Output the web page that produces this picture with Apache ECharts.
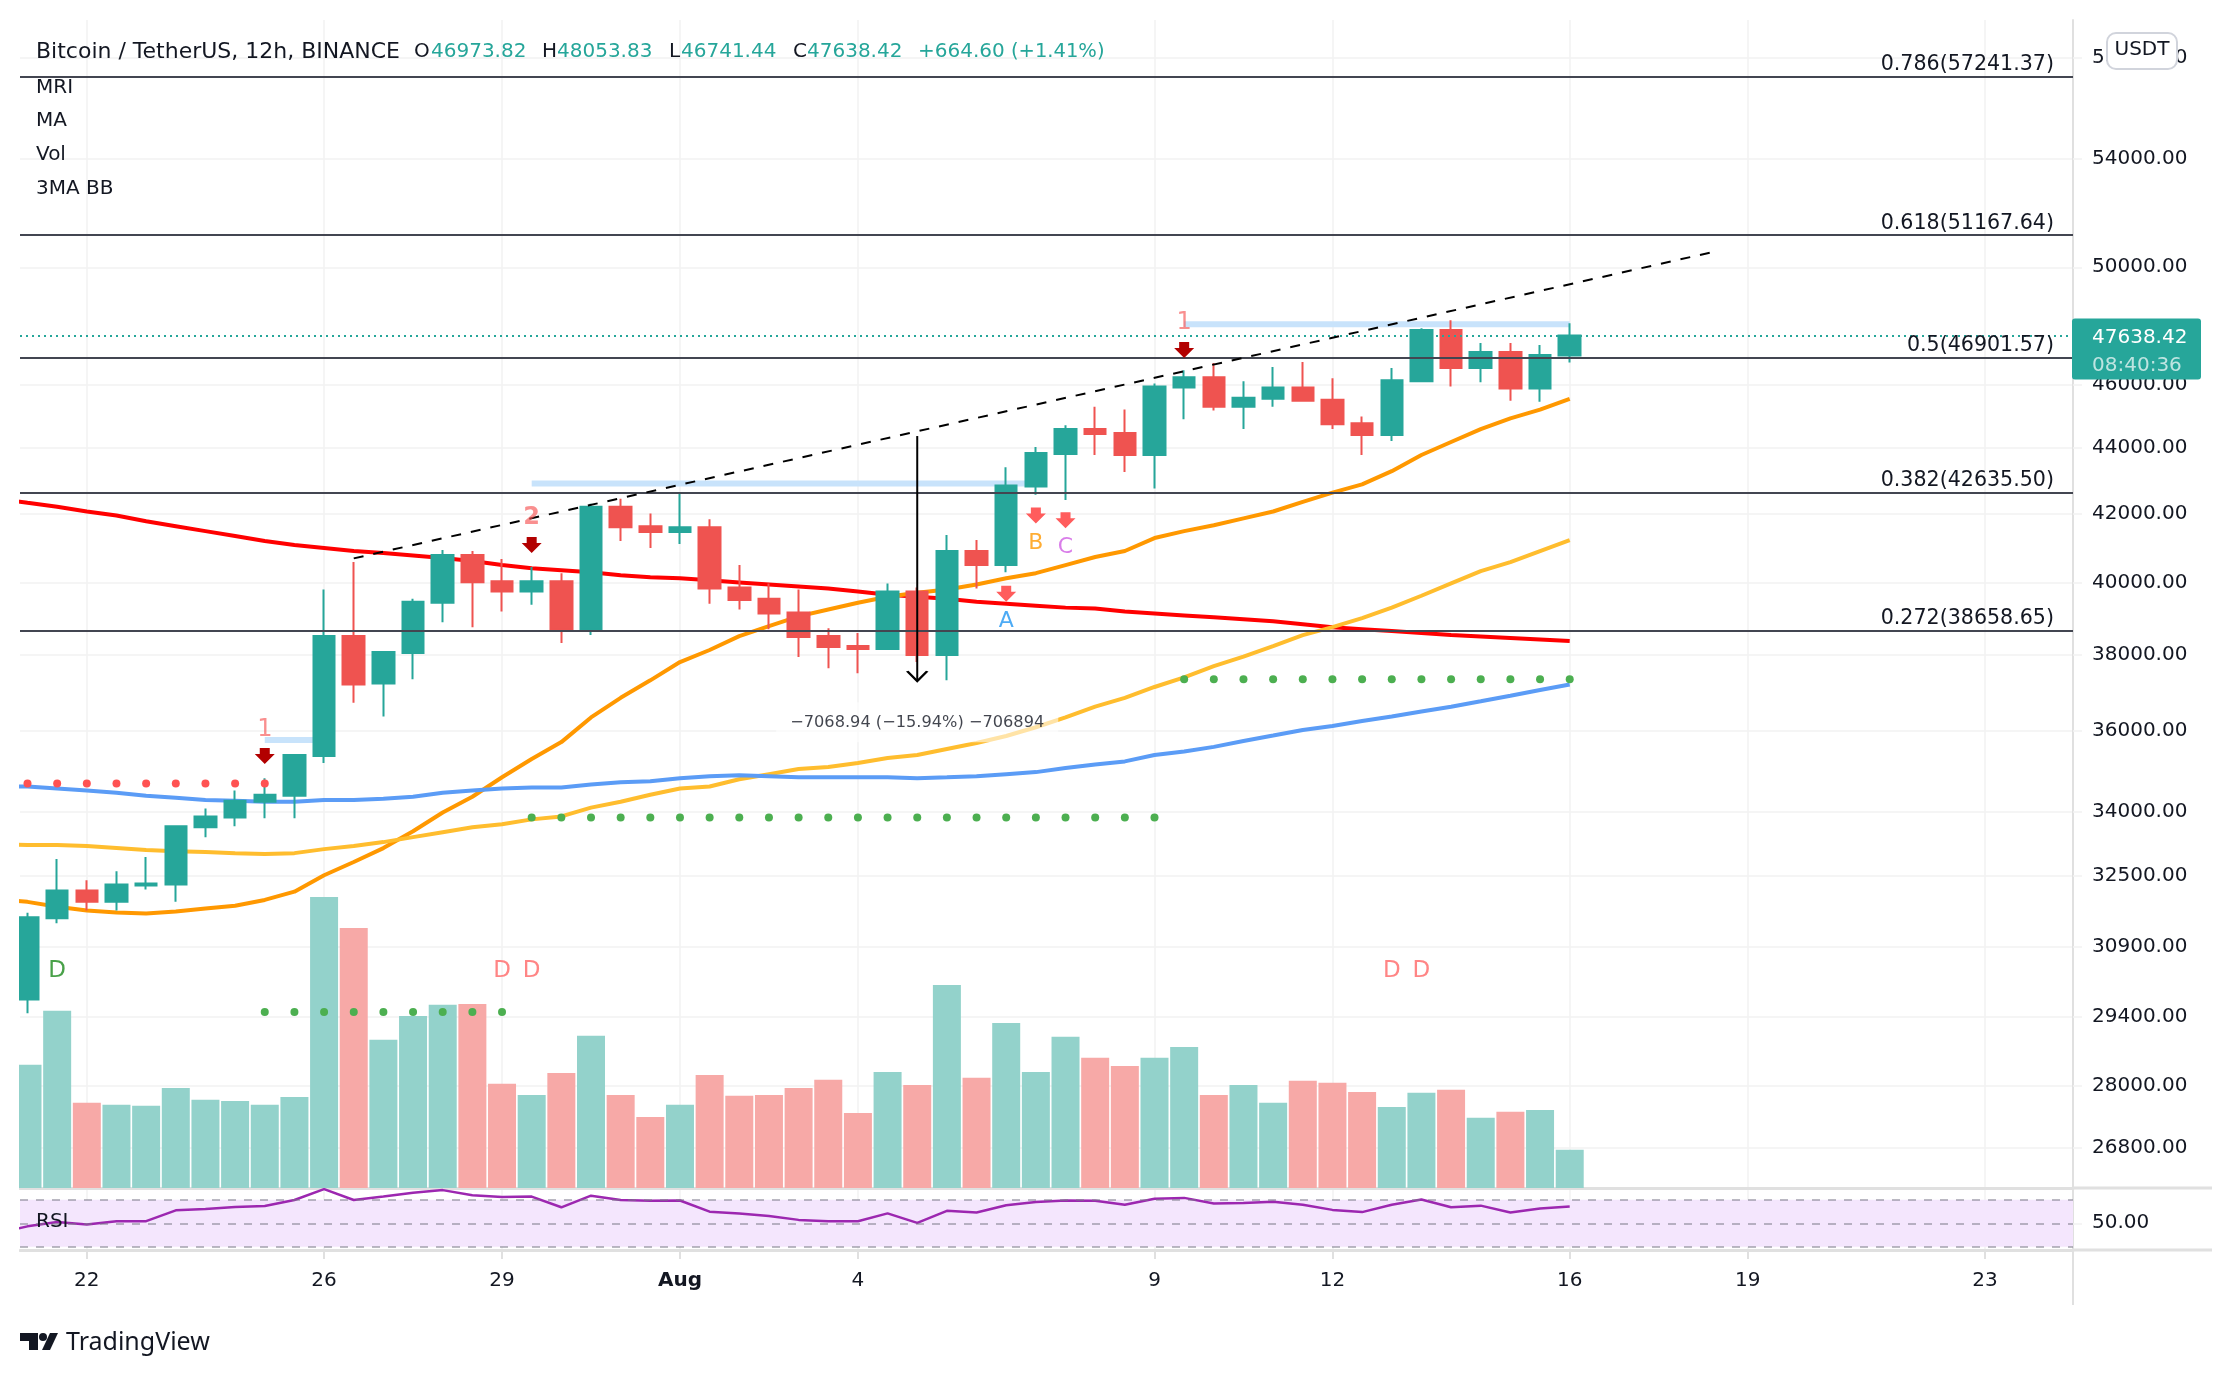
<!DOCTYPE html>
<html>
<head>
<meta charset="utf-8">
<title>BTCUSDT 12h</title>
<script src="https://cdn.jsdelivr.net/npm/echarts@6/dist/echarts.min.js"></script>
<style>
    html, body { margin: 0; padding: 0; background: #fff; }
    #chart { width: 2232px; height: 1376px; }
</style>
</head>
<body>
<div id="chart"></div>
<script>
'use strict';

// 12h candles, bar 0 = Jul 21 00:00
const opens = [29769,31532,32158,31902,32275,32299,33633,33868,34244,34392,35375,38508,37239,38049,39427,40784,40030,39740,40030,38698,42204,41624,41450,41595,39856,39537,39157,38508,38238,38157,39740,37995,40900,40494,42811,43809,44586,44462,43778,45920,46254,45301,45552,45920,45519,44773,44400,46120,47825,46555,47090,45887,46973.82];
const closes = [31554,32158,31902,32299,32322,33656,33892,34268,34417,35400,38508,37212,38076,39454,40784,40001,39740,40030,38698,42204,41595,41450,41595,39827,39508,39130,38482,38211,38157,39740,37995,40900,40494,42842,43838,44586,44431,43778,45953,46254,45301,45586,45920,45488,44741,44400,46154,47825,46555,47090,45887,46989,47638.42];
const lows = [29483,31423,31706,31706,32181,31902,33398,33656,33845,33845,35198,36731,36379,37347,38887,38752,39184,39373,38320,38536,41189,40986,41102,39400,39238,38698,37941,37644,37509,38157,37806,37320,39827,40291,42563,42407,43778,43249,42749,44897,45177,44586,45301,45488,44586,43778,44213,46120,45953,46087,45488,45457,46741.44];
const highs = [31656,32886,32393,32604,32933,33656,34080,34518,34820,35425,39798,40581,38103,39537,40929,40900,40668,40436,40262,42291,42438,41999,42594,41827,40494,39972,39798,38725,38590,39972,39856,41366,41221,43402,44026,44711,45301,45208,46053,46488,46722,46120,46588,46755,46220,44990,46555,47891,48159,47390,47390,47323,48053.83];
const volumes = [286,411,198,193,191,232,205,202,193,211,675,603,344,399,425,427,242,216,267,353,216,165,193,262,214,216,232,251,174,269,239,471,256,383,269,351,302,283,302,327,216,239,198,249,244,223,188,221,228,163,177,181,89];

// moving averages and rsi, first value sits one bar before bar 0
const maRed = [42438,42320,42204,42059,41943,41769,41624,41479,41334,41189,41073,40986,40899,40841,40769,40696,40609,40493,40406,40348,40290,40203,40145,40116,40058,40000,39942,39884,39826,39740,39653,39595,39537,39454,39400,39346,39292,39265,39184,39130,39076,39022,38968,38914,38833,38752,38698,38644,38590,38536,38495,38455,38414,38374];
const maOrange = [31968,31902,31793,31706,31663,31641,31684,31750,31815,31946,32134,32510,32816,33140,33539,33986,34367,34845,35299,35723,36353,36861,37320,37806,38130,38508,38779,39049,39238,39427,39595,39711,39798,39943,40117,40262,40494,40726,40899,41276,41479,41653,41856,42059,42349,42625,42874,43278,43776,44182,44586,44928,45207,45552];
const bbYellow = [33233,33210,33210,33187,33140,33093,33069,33046,33022,32999,33022,33116,33187,33281,33398,33516,33633,33704,33821,33892,34103,34244,34417,34568,34619,34795,34921,35047,35098,35198,35324,35400,35551,35702,35878,36101,36353,36631,36861,37145,37401,37698,37952,38238,38536,38752,39000,39292,39624,39972,40320,40581,40899,41218];
const bbBlue = [34619,34619,34568,34518,34467,34392,34341,34291,34268,34244,34244,34291,34291,34316,34367,34467,34518,34568,34593,34593,34669,34719,34745,34820,34871,34896,34871,34845,34845,34845,34845,34820,34845,34871,34921,34972,35072,35163,35238,35400,35487,35602,35753,35890,36032,36134,36263,36379,36505,36631,36770,36915,37064,37212];
const rsiValues = [41.6,47.4,51.1,48.9,51.8,51.8,61.0,62.1,63.9,64.7,69.8,79.0,69.8,72.7,76.0,78.2,73.8,72.4,72.7,63.6,73.5,69.8,69.1,69.4,59.9,58.4,56.2,52.9,51.8,51.8,58.4,50.4,60.6,59.2,65.4,68.0,69.4,69.1,65.8,70.9,71.6,66.9,67.2,68.3,65.8,61.4,59.5,65.8,70.2,63.6,65.0,59.2,62.5,64.3];

// fib levels
const fibRatios = ['0.272', '0.382', '0.5', '0.618', '0.786'];
const fibPrices = [38658.65, 42635.50, 46901.57, 51167.64, 57241.37];

// dot rows: [first bar, last bar, price]
const redDots = [0, 8, 34694];
const greenDotsLow = [8, 16, 29507];
const greenDotsMid = [17, 38, 33868];
const greenDotsHigh = [39, 52, 37347];

// light blue pivots: [first bar, last bar, price]
const pivots = [[8, 10, 35774], [17, 34, 42905], [39, 52, 48025]];
const pivotDigits = ['1', '2', '1'];
const pivotDigitBars = [8, 17, 39];
const pivotDigitPrices = [36040, 41885, 48090];
const darkArrowBars = [8, 17, 39];
const darkArrowPrices = [35375, 41073, 47157];
const lightArrowBars = [33, 34, 35];
const lightArrowPrices = [39682, 41943, 41798];
const abcLetters = ['A', 'B', 'C'];
const abcBars = [33, 34, 35];
const abcPrices = [38914, 41131, 41015];
const abcColors = ['#2196f3', '#ff9800', '#d05ce3'];
const divergenceBars = [1, 16, 17, 46, 47];
const divergenceColors = ['#1b8a1b', '#ff6666', '#ff6666', '#ff6666', '#ff6666'];
const divergencePrice = 30368;

// drawings
const trendBars = [11, 57];
const trendPrices = [40687, 50585];
const measureBar = 30;
const measurePrices = [44368, 37301];
const measureText = '\u22127068.94 (\u221215.94%) \u2212706894';
const measureTextPrice = 36227;

// axes
const priceTicks = [26800, 28000, 29400, 30900, 32500, 34000, 36000, 38000, 40000, 42000, 44000, 46000, 50000, 54000, 58000];
const tickBars = [2, 10, 16, 22, 28, 38, 44, 52, 58, 66];
const tickLabels = ['22', '26', '29', 'Aug', '4', '9', '12', '16', '19', '23'];

const FONT = '"DejaVu Sans"';
const UP = '#26a69a', DOWN = '#ef5350', INK = '#131722', GRID = '#f2f2f2', EDGE = '#e0e0e0';
const barAt = (arr) => arr.map((v, i) => [i - 1, v]);

function dotRow(row) {
    let out = [];
    for (let i = row[0]; i <= row[1]; i++) out.push([i, row[2]]);
    return out;
}

function lineSeries(name, values, color, z) {
    return {
        name: name, type: 'line', data: barAt(values), showSymbol: false, symbol: 'none',
        lineStyle: {color: color, width: 4}, z: z, silent: true
    };
}

function dotSeries(name, row, color) {
    return {
        name: name, type: 'scatter', data: dotRow(row), symbolSize: 8,
        itemStyle: {color: color, opacity: 1}, z: 7, silent: true
    };
}

function textSeries(name, items, size) {
    return {
        name: name, type: 'scatter', symbolSize: 0, z: 9, silent: true,
        data: items.map(function (d) {
            return {
                value: [d[0], d[1]],
                label: {show: true, position: 'inside', formatter: d[2], color: d[3], fontFamily: FONT, fontSize: size, fontWeight: d[4] || 'normal'}
            };
        })
    };
}

const ARROW = 'path://M5,0H15V6H20L10,16L0,6H5Z';

const chart = echarts.init(document.getElementById('chart'));

let series = [
    {
        name: 'Vol', type: 'bar', xAxisIndex: 0, yAxisIndex: 1, barWidth: 28, z: 1, silent: true,
        data: volumes.map(function (v, i) {
            return {
                value: [i, v],
                itemStyle: {color: closes[i] >= opens[i] ? '#93d2cb' : '#f7a9a7'}
            };
        })
    },
    lineSeries('MA red', maRed, '#ff0000', 3),
    lineSeries('MA orange', maOrange, '#ff9800', 3),
    lineSeries('BB yellow', bbYellow, '#ffbd2e', 3),
    lineSeries('BB blue', bbBlue, '#5b9cf6', 3)
];

pivots.forEach(function (p, i) {
    series.push({
        name: 'pivot' + i, type: 'line', symbol: 'none', z: 2, silent: true,
        data: [[p[0], p[2]], [p[1], p[2]]],
        lineStyle: {color: '#c8e3fb', width: 6, cap: 'butt'}
    });
});

series.push({
    name: 'BTCUSDT', type: 'candlestick', barWidth: 22, z: 5, silent: true,
    data: opens.map((o, i) => [i, o, closes[i], lows[i], highs[i]]),
    itemStyle: {color: UP, color0: DOWN, borderColor: UP, borderColor0: DOWN, borderWidth: 2}
});

series.push(
    dotSeries('dots red', redDots, '#ff5252'),
    dotSeries('dots low', greenDotsLow, '#4caf50'),
    dotSeries('dots mid', greenDotsMid, '#4caf50'),
    dotSeries('dots high', greenDotsHigh, '#4caf50')
);

// fib lines and last price line
series.push({
    name: 'fib', type: 'line', data: [], z: 6, silent: true,
    markLine: {
        silent: true, symbol: 'none', animation: false, z: 6,
        lineStyle: {color: '#434651', width: 2, type: 'solid'},
        data: fibPrices.map(function (v, i) {
            return {
                yAxis: v,
                label: {
                    show: true, position: 'insideEndTop', formatter: fibRatios[i] + '(' + v.toFixed(2) + ')',
                    color: INK, fontFamily: FONT, fontSize: 20.6, padding: [0, 18, 0, 0], distance: 1
                }
            };
        }).concat([{
            yAxis: closes[closes.length - 1],
            label: {show: false},
            lineStyle: {color: UP, width: 2, type: [2, 4]}
        }])
    }
});

series.push({
    name: 'trend', type: 'line', symbol: 'none', z: 8, silent: true,
    data: trendBars.map((b, i) => [b, trendPrices[i]]),
    lineStyle: {color: '#000', width: 2, type: [10, 10]}
});

series.push({
    name: 'measure', type: 'line', z: 8, silent: true,
    data: measurePrices.map((p) => [measureBar, p]),
    symbol: ['none', 'none'], showSymbol: false,
    lineStyle: {color: '#000', width: 2},
    markPoint: {
        silent: true, animation: false,
        symbol: 'path://M0,0L10,10L20,0', symbolSize: [20, 10], symbolOffset: [0, -5],
        itemStyle: {color: 'none', borderColor: '#000', borderWidth: 2},
        label: {show: false},
        data: [{coord: [measureBar, measurePrices[1]]}]
    }
});

series.push({
    name: 'arrows dark', type: 'scatter', symbol: ARROW, symbolSize: [20, 16], z: 9, silent: true,
    data: darkArrowBars.map((b, i) => [b, darkArrowPrices[i]]),
    itemStyle: {color: '#b20000', opacity: 1}
});
series.push({
    name: 'arrows light', type: 'scatter', symbol: ARROW, symbolSize: [20, 16], z: 9, silent: true,
    data: lightArrowBars.map((b, i) => [b, lightArrowPrices[i]]),
    itemStyle: {color: '#ff5c5c', opacity: 1}
});

series.push(
    textSeries('pivot digits', pivotDigitBars.map((b, i) => [b, pivotDigitPrices[i], pivotDigits[i], 'rgba(245,80,80,0.8)', pivotDigits[i] === '2' ? 'bold' : 'normal']), 24),
    textSeries('abc', abcBars.map((b, i) => [b, abcPrices[i], abcLetters[i], abcColors[i]]), 22),
    textSeries('divergence', divergenceBars.map((b, i) => [b, divergencePrice, 'D', divergenceColors[i]]), 23)
);

series.push({
    name: 'measure text', type: 'scatter', symbolSize: 0, z: 9, silent: true,
    data: [{
        value: [measureBar, measureTextPrice],
        label: {
            show: true, position: 'inside', formatter: measureText, color: INK, fontFamily: FONT, fontSize: 16.2,
            backgroundColor: 'rgba(255,255,255,0.72)', padding: [12, 14, 12, 14]
        }
    }]
});

// rsi pane
series.push({
    name: 'RSI', type: 'line', xAxisIndex: 1, yAxisIndex: 2, symbol: 'none', z: 4, silent: true,
    data: barAt(rsiValues),
    lineStyle: {color: '#9c27b0', width: 2.5},
    markArea: {
        silent: true, animation: false,
        itemStyle: {color: '#f4e6fd'},
        data: [[{yAxis: 70}, {yAxis: 30}]]
    },
    markLine: {
        silent: true, animation: false, symbol: 'none',
        label: {show: false},
        lineStyle: {color: 'rgba(120,120,134,0.5)', width: 2, type: [8, 8]},
        data: [{yAxis: 70}, {yAxis: 50}, {yAxis: 30}]
    }
});

const xBase = {
    type: 'value', min: -0.253, max: 68.97, splitNumber: 10,
    axisLine: {show: false},
    splitLine: {show: true, lineStyle: {color: GRID, width: 1.5}},
    axisTick: {show: false, customValues: tickBars},
    axisLabel: {show: false, customValues: tickBars}
};

const option = {
    animation: false,
    backgroundColor: '#fff',
    textStyle: {fontFamily: FONT},
    grid: [
        {left: 20, right: 159, top: 20, height: 1168},
        {left: 20, right: 159, top: 1188, height: 62}
    ],
    xAxis: [
        Object.assign({}, xBase, {gridIndex: 0, axisLine: {show: true, onZero: false, lineStyle: {color: EDGE, width: 3}}}),
        Object.assign({}, xBase, {
            gridIndex: 1,
            axisLine: {show: true, onZero: false, lineStyle: {color: EDGE, width: 3}},
            axisTick: {show: true, length: 9, lineStyle: {color: EDGE, width: 2}, customValues: tickBars},
            axisLabel: {
                show: true, customValues: tickBars, margin: 21, color: INK, fontFamily: FONT, fontSize: 20,
                formatter: function (v) {
                    let s = tickLabels[tickBars.indexOf(v)];
                    return s === 'Aug' ? '{b|Aug}' : s;
                },
                rich: {b: {fontWeight: 'bold', fontSize: 20, fontFamily: FONT, color: INK}}
            }
        })
    ],
    yAxis: [
        {
            type: 'log', logBase: Math.E, gridIndex: 0, position: 'right', min: 26051, max: 59568,
            axisLine: {show: true, onZero: false, lineStyle: {color: EDGE, width: 2}},
            axisTick: {show: true, length: 9, lineStyle: {color: GRID, width: 1.5}, customValues: priceTicks},
            splitLine: {show: true, lineStyle: {color: GRID, width: 1.5}},
            axisLabel: {
                customValues: priceTicks, margin: 19, color: INK, fontFamily: FONT, fontSize: 20, padding: [3, 0, 0, 0],
                formatter: (v) => Number(v).toFixed(2)
            }
        },
        {
            type: 'value', gridIndex: 0, min: 0, max: 2710, show: false, splitLine: {show: false}
        },
        {
            type: 'value', gridIndex: 1, position: 'right', min: 27.3, max: 80,
            axisLine: {show: true, onZero: false, lineStyle: {color: EDGE, width: 2}},
            axisTick: {show: true, length: 9, lineStyle: {color: GRID, width: 1.5}, customValues: [50]},
            splitLine: {show: false},
            axisLabel: {
                customValues: [50], margin: 19, color: INK, fontFamily: FONT, fontSize: 20, padding: [3, 0, 0, 0],
                formatter: (v) => Number(v).toFixed(2)
            }
        }
    ],
    series: series
};

chart.setOption(option);

// header and overlays
const headerPieces = [
    ['Bitcoin / TetherUS, 12h, BINANCE', 36, INK, 22],
    ['O', 414, INK, 20], ['46973.82', 431, UP, 20],
    ['H', 542, INK, 20], ['48053.83', 557, UP, 20],
    ['L', 669, INK, 20], ['46741.44', 681, UP, 20],
    ['C', 793, INK, 20], ['47638.42', 807, UP, 20],
    ['+664.60', 918, UP, 20], ['(+1.41%)', 1011, UP, 19.5]
];
const legendRows = [['MRI', 88], ['MA', 121], ['Vol', 155], ['3MA BB', 189], ['RSI', 1222]];

let overlay = [];

// candles and volume bars stop at the left pane edge
overlay.push({type: 'rect', z: 30, silent: true, shape: {x: 0, y: 0, width: 19, height: 1376}, style: {fill: '#fff'}});

headerPieces.forEach(function (h) {
    overlay.push({
        type: 'text', x: h[1], y: 52, z: 50, silent: true,
        style: {text: h[0], fill: h[2], font: h[3] + 'px ' + FONT, textVerticalAlign: 'middle'}
    });
});
legendRows.forEach(function (r) {
    overlay.push({
        type: 'text', x: 36, y: r[1], z: 50, silent: true,
        style: {text: r[0], fill: INK, font: '20px ' + FONT, textVerticalAlign: 'middle'}
    });
});

// pane separators past the price axis
[1188, 1250].forEach(function (y) {
    overlay.push({type: 'line', z: 20, silent: true, shape: {x1: 2073, y1: y, x2: 2212, y2: y}, style: {stroke: EDGE, lineWidth: 3}});
});
overlay.push({type: 'line', z: 20, silent: true, shape: {x1: 2073, y1: 1250, x2: 2073, y2: 1305}, style: {stroke: EDGE, lineWidth: 2}});

// last price tag follows the axis
const lastY = chart.convertToPixel({yAxisIndex: 0}, closes[closes.length - 1]);
overlay.push({type: 'rect', z: 40, silent: true, shape: {x: 2072, y: lastY - 17, width: 129, height: 61, r: 3}, style: {fill: UP}});
overlay.push({type: 'text', x: 2092, y: lastY + 2, z: 41, silent: true, style: {text: closes[closes.length - 1].toFixed(2), fill: '#fff', font: '20px ' + FONT, textVerticalAlign: 'middle'}});
overlay.push({type: 'text', x: 2092, y: lastY + 30, z: 41, silent: true, style: {text: '08:40:36', fill: 'rgba(255,255,255,0.7)', font: '20px ' + FONT, textVerticalAlign: 'middle'}});

// USDT button
overlay.push({type: 'rect', z: 40, silent: true, shape: {x: 2107, y: 33, width: 70, height: 36, r: 9}, style: {fill: '#fff', stroke: '#d1d4dc', lineWidth: 2}});
overlay.push({type: 'text', x: 2142, y: 50, z: 41, silent: true, style: {text: 'USDT', fill: INK, font: '20px ' + FONT, textAlign: 'center', textVerticalAlign: 'middle'}});

// TradingView mark
overlay.push({type: 'polygon', z: 40, silent: true, shape: {points: [[20, 1333], [38, 1333], [38, 1350], [29, 1350], [29, 1341], [20, 1341]]}, style: {fill: '#131722'}});
overlay.push({type: 'circle', z: 40, silent: true, shape: {cx: 43, cy: 1337, r: 4}, style: {fill: '#131722'}});
overlay.push({type: 'polygon', z: 40, silent: true, shape: {points: [[50, 1333], [58, 1333], [50, 1350], [42, 1350]]}, style: {fill: '#131722'}});
overlay.push({type: 'text', x: 66, y: 1343, z: 40, silent: true, style: {text: 'TradingView', fill: INK, font: '25px "Noto Sans"', textVerticalAlign: 'middle'}});

chart.setOption({graphic: {elements: overlay}});
</script>
</body>
</html>
